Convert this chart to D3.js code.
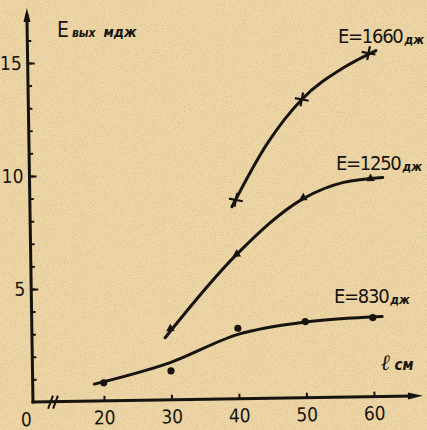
<!DOCTYPE html>
<html>
<head>
<meta charset="utf-8">
<script src="https://cdn.jsdelivr.net/npm/d3@7"></script>
<style>
  body { margin: 0; background: #efd7a6; }
  svg { display: block; }
  .tick text { font-family: "DejaVu Sans Condensed", "DejaVu Sans", sans-serif; font-size: 19px; fill: #17140f; }
  .lbl { font-family: "DejaVu Sans Condensed", "DejaVu Sans", sans-serif; fill: #17140f; }
</style>
</head>
<body>
<svg width="427" height="430"></svg>
<script>
// measured points (l, см ; E вых, мдж)
var l1660 = [40, 50, 60],
    v1660 = [8.8, 13.2, 15.2];
var l1250 = [30, 40, 50, 60],
    v1250 = [3.15, 6.4, 8.85, 9.65];
var l830 = [20, 30, 40, 50, 60],
    v830 = [0.8, 1.28, 3.12, 3.37, 3.5];

// hand-drawn fitted curves
var fit1660 = [[39.4, 8.5], [44.8, 11.28], [50, 13.2], [56.3, 14.58], [61.1, 15.31]];
var fit1250 = [[29.2, 2.75], [40, 6.39], [50, 8.81], [56, 9.5], [61.8, 9.69]];
var fit830 = [[18.6, 0.75], [30, 1.66], [40, 2.85], [50, 3.35], [61.4, 3.54]];

var xTicks = [20, 30, 40, 50, 60];
var yMajor = [5, 10, 15];
var yMinor = d3.range(1, 17);

var ink = "#17140f";
var svg = d3.select("svg");
var ox = 33, oy = 402;

// paper grain
var flt = svg.append("defs").append("filter").attr("id", "grain")
    .attr("x", 0).attr("y", 0).attr("width", "100%").attr("height", "100%");
flt.append("feTurbulence").attr("type", "fractalNoise").attr("baseFrequency", 0.9)
    .attr("numOctaves", 2).attr("seed", 3);
flt.append("feColorMatrix").attr("values",
    "0 0 0 0 0.45  0 0 0 0 0.35  0 0 0 0 0.2  0 0 0 -2.2 1.25");
svg.append("rect").attr("width", 427).attr("height", 430).attr("fill", "#efd7a6");
svg.append("rect").attr("width", 427).attr("height", 430).attr("filter", "url(#grain)").attr("opacity", 0.4);

var x = d3.scaleLinear().domain([20, 60]).range([104, 374]),
    y = d3.scaleLinear().domain([0, 15]).range([oy, 63]);

var g = svg.append("g").attr("transform", "rotate(-0.9," + ox + "," + oy + ")");

// axes lines
g.append("line").attr("x1", ox).attr("y1", oy + 1.5).attr("x2", ox).attr("y2", 14)
    .attr("stroke", ink).attr("stroke-width", 3);
g.append("path").attr("d", "M" + (ox - 3.5) + ",22 L" + ox + ",8 L" + (ox + 3.5) + ",22 Z").attr("fill", ink);
g.append("line").attr("x1", ox - 1.5).attr("y1", oy).attr("x2", 414).attr("y2", oy)
    .attr("stroke", ink).attr("stroke-width", 3);
g.append("path").attr("d", "M408," + (oy - 3.5) + " L423," + oy + " L408," + (oy + 3.5) + " Z").attr("fill", ink);

// axis break
[0, 5].forEach(function (s) {
    g.append("line").attr("x1", 48 + s).attr("y1", oy + 7).attr("x2", 53 + s).attr("y2", oy - 6)
        .attr("stroke", ink).attr("stroke-width", 2);
});

var yMinorAxis = g.append("g").attr("transform", "translate(" + ox + ",0)")
    .call(d3.axisLeft(y).tickValues(yMinor).tickSizeInner(-4).tickSizeOuter(0).tickFormat(""));
var yAxis = g.append("g").attr("transform", "translate(" + ox + ",0)")
    .call(d3.axisLeft(y).tickValues(yMajor).tickSizeInner(-7).tickSizeOuter(0).tickPadding(6));
var xAxis = g.append("g").attr("transform", "translate(0," + oy + ")")
    .call(d3.axisBottom(x).tickValues(xTicks).tickSizeInner(-5).tickSizeOuter(0).tickPadding(10));
[yMinorAxis, yAxis, xAxis].forEach(function (a) {
    a.select(".domain").remove();
    a.selectAll(".tick line").attr("stroke", ink).attr("stroke-width", 2);
});

g.append("text").attr("class", "lbl").attr("x", 26).attr("y", 426)
    .attr("text-anchor", "middle").style("font-size", "19px").text("0");

// curves
var line = d3.line()
    .x(function (d) { return x(d[0]); })
    .y(function (d) { return y(d[1]); })
    .curve(d3.curveMonotoneX);

[fit1660, fit1250, fit830].forEach(function (f) {
    g.append("path").datum(f).attr("d", line)
        .attr("fill", "none").attr("stroke", ink).attr("stroke-width", 3).attr("stroke-linecap", "round");
});

// markers
var pts1660 = l1660.map(function (l, i) { return [l, v1660[i]]; });
var pts1250 = l1250.map(function (l, i) { return [l, v1250[i]]; });
var pts830 = l830.map(function (l, i) { return [l, v830[i]]; });

g.selectAll(".cross").data(pts1660).enter().append("path")
    .attr("class", "cross")
    .attr("transform", function (d) { return "translate(" + x(d[0]) + "," + y(d[1]) + ") rotate(12)"; })
    .attr("d", "M-7,0 L7,0 M0,-7 L0,7")
    .attr("stroke", ink).attr("stroke-width", 2.2);

g.selectAll(".tri").data(pts1250).enter().append("path")
    .attr("class", "tri")
    .attr("transform", function (d) { return "translate(" + x(d[0]) + "," + y(d[1]) + ")"; })
    .attr("d", d3.symbol().type(d3.symbolTriangle).size(32))
    .attr("fill", ink);

g.selectAll(".dot").data(pts830).enter().append("circle")
    .attr("class", "dot")
    .attr("cx", function (d) { return x(d[0]); })
    .attr("cy", function (d) { return y(d[1]); })
    .attr("r", 3.6)
    .attr("fill", ink);

// labels
function eLabel(px, py, val) {
    var t = svg.append("text").attr("class", "lbl").attr("x", px).attr("y", py)
        .style("font-size", "20px").style("letter-spacing", "-1.3px");
    t.append("tspan").text("E=" + val);
    t.append("tspan").attr("dx", 2).attr("dy", 1).style("font-size", "12px")
        .style("letter-spacing", "0px").style("font-style", "italic").style("font-weight", "bold").text("дж");
}
eLabel(338, 43, "1660");
eLabel(336, 170, "1250");
eLabel(334, 303, "830");

var yl = svg.append("text").attr("class", "lbl").attr("x", 57).attr("y", 37).style("font-size", "21px");
yl.append("tspan").text("E");
yl.append("tspan").attr("dx", 3).style("font-size", "12px").style("font-style", "italic")
    .style("font-weight", "bold").text("вых");
yl.append("tspan").attr("dx", 8).style("font-size", "14px").style("font-style", "italic")
    .style("font-weight", "bold").text("мдж");

var xl = svg.append("text").attr("class", "lbl").attr("x", 381).attr("y", 370)
    .style("font-style", "italic").style("font-weight", "bold");
xl.append("tspan").style("font-size", "22px").style("font-family", "DejaVu Serif, serif").text("ℓ");
xl.append("tspan").attr("dx", 4).style("font-size", "15px").text("см");
</script>
</body>
</html>
